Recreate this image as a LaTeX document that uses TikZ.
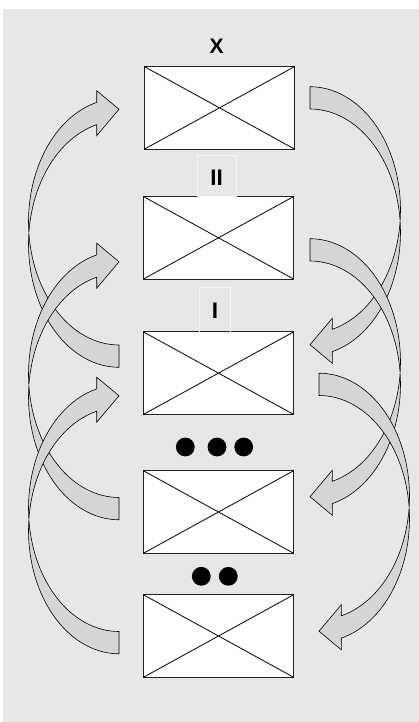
\documentclass[tikz,border=0pt]{standalone}
\usepackage{fontspec}
\setmainfont{Liberation Sans}
\definecolor{bgc}{RGB}{230,231,232}
\definecolor{arrc}{RGB}{212,213,215}
\definecolor{framec}{RGB}{246,246,246}
\tikzset{
  box/.style={draw={rgb,255:red,34;green,34;blue,34}, line width=1.1pt, fill=white, rectangle, inner sep=0pt, outer sep=0pt, minimum width=150.4pt, minimum height=82.6pt},
  diag/.style={line width=0.8pt, black},
  bigarrow/.style={draw=black, line width=0.6pt, fill=arrc, line join=miter},
  lbl/.style={font=\fontsize{21}{24}\selectfont\bfseries, inner sep=0pt},
  lblbig/.style={font=\fontsize{22.5}{26}\selectfont\bfseries, inner sep=0pt},
  lblframe/.style={draw=framec, line width=0.8pt, rectangle, inner sep=0pt, outer sep=0pt},
  bdot/.style={circle, fill=black, inner sep=0pt, minimum size=18.8pt}
}
\newcommand{\leftcurvedarrow}{%
  \draw[bigarrow] plot[domain=90:255.74, samples=60] ({119+90.5*cos(\x)},{221.8+123.2*sin(\x)})
    -- (96.7,90.7) -- (119,109.3) -- (96.7,135.7)
    -- plot[domain=0:165.74, samples=60] ({119+90.5*cos(255.74-\x)},{244.1+123.2*sin(255.74-\x)})
    -- cycle;}
\begin{document}
\begin{tikzpicture}[x=1pt,y=-1pt]
\useasboundingbox (0,0) rectangle (419,722);
\fill[bgc] (3,9) rectangle (419,722);
% left arrows
\begin{scope}\leftcurvedarrow\end{scope}
\begin{scope}[shift={(0,152.5)}]\leftcurvedarrow\end{scope}
\begin{scope}[shift={(0,286.5)}]\leftcurvedarrow\end{scope}
% right arrows
\begin{scope}[rotate around={180:(214.5,227)}]\leftcurvedarrow\end{scope}
\begin{scope}[shift={(0,152)}]\begin{scope}[rotate around={180:(214.5,227)}]\leftcurvedarrow\end{scope}\end{scope}
\begin{scope}[shift={(9,286.5)}]\begin{scope}[rotate around={180:(214.5,227)}]\leftcurvedarrow\end{scope}\end{scope}
% boxes
\node[box] (b1) at (219.5,107.85) {};
\node[box] (b2) at (218.5,237.8) {};
\node[box] (b3) at (218.5,373.15) {};
\node[box] (b4) at (218.5,512) {};
\node[box] (b5) at (218.5,636) {};
\foreach \b in {b1,b2,b3,b4,b5}{
  \draw[diag] (\b.north west) -- (\b.south east) (\b.north east) -- (\b.south west);
}
% labels
\node[lbl] (lx) at (216.5,46) {X};
\node[lblframe, minimum width=39.7pt, minimum height=41pt] (f2) at (216.85,175.5) {};
\node[lblbig] (l2) at (216.7,178) {II};
\node[lblframe, minimum width=30.7pt, minimum height=44.3pt] (f3) at (214.65,309.85) {};
\node[lblbig] (l3) at (215,311) {I};
% dots
\node[bdot] (d1) at (185.3,447) {};
\node[bdot] (d2) at (217,447) {};
\node[bdot] (d3) at (243.7,447) {};
\node[bdot] (d4) at (201.3,576.3) {};
\node[bdot] (d5) at (228.3,576.3) {};
\end{tikzpicture}
\end{document}
